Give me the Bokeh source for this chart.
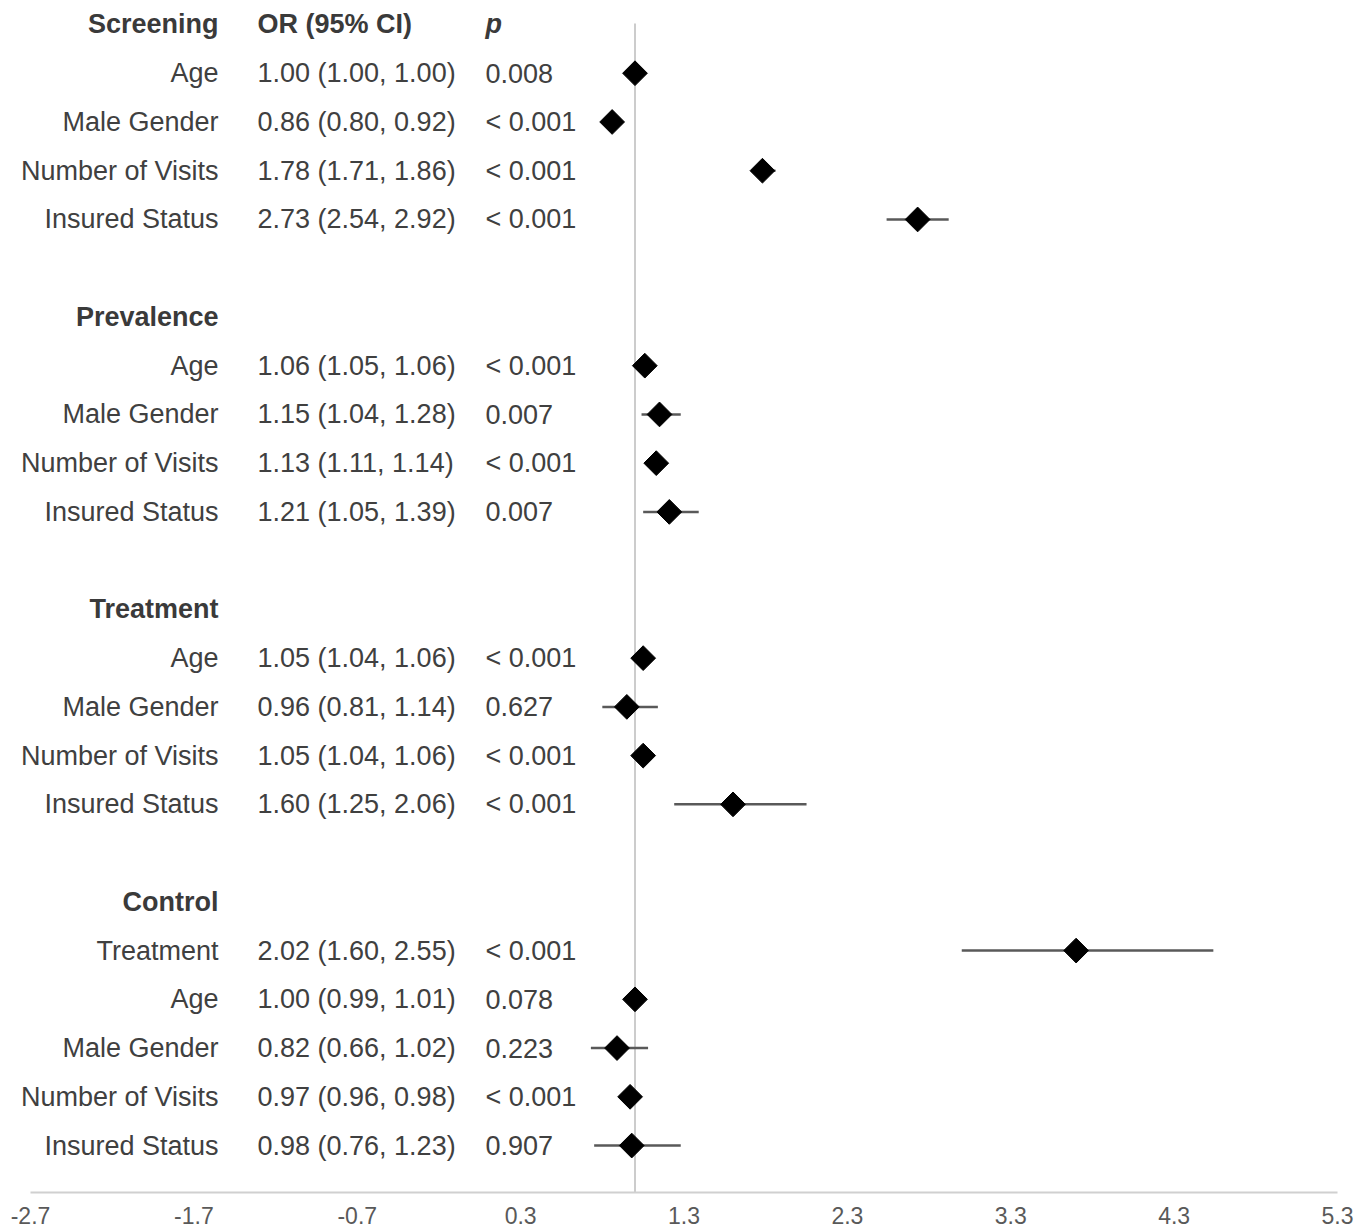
import numpy as np
from bokeh.plotting import figure
from bokeh.models import Range1d, FixedTicker
from bokeh.core.properties import value
from bokeh.embed import file_html
from bokeh.resources import INLINE

# ---------------- data ----------------
group_names = ["Screening", "Prevalence", "Treatment", "Control"]

group_vars = [
    ["Age", "Male Gender", "Number of Visits", "Insured Status"],
    ["Age", "Male Gender", "Number of Visits", "Insured Status"],
    ["Age", "Male Gender", "Number of Visits", "Insured Status"],
    ["Treatment", "Age", "Male Gender", "Number of Visits", "Insured Status"],
]

or_text = [
    ["1.00 (1.00, 1.00)", "0.86 (0.80, 0.92)", "1.78 (1.71, 1.86)", "2.73 (2.54, 2.92)"],
    ["1.06 (1.05, 1.06)", "1.15 (1.04, 1.28)", "1.13 (1.11, 1.14)", "1.21 (1.05, 1.39)"],
    ["1.05 (1.04, 1.06)", "0.96 (0.81, 1.14)", "1.05 (1.04, 1.06)", "1.60 (1.25, 2.06)"],
    ["2.02 (1.60, 2.55)", "1.00 (0.99, 1.01)", "0.82 (0.66, 1.02)", "0.97 (0.96, 0.98)", "0.98 (0.76, 1.23)"],
]

p_text = [
    ["0.008", "< 0.001", "< 0.001", "< 0.001"],
    ["< 0.001", "0.007", "< 0.001", "0.007"],
    ["< 0.001", "0.627", "< 0.001", "< 0.001"],
    ["< 0.001", "0.078", "0.223", "< 0.001", "0.907"],
]

# plotted estimates and CI ends, as read from the markers in the picture
est = [
    [1.00, 0.86, 1.78, 2.73],
    [1.06, 1.15, 1.13, 1.21],
    [1.05, 0.95, 1.05, 1.60],
    [3.70, 1.00, 0.89, 0.97, 0.98],
]
lo = [
    [1.00, 0.80, 1.71, 2.54],
    [1.05, 1.04, 1.11, 1.05],
    [1.04, 0.80, 1.04, 1.24],
    [3.00, 0.99, 0.73, 0.96, 0.75],
]
hi = [
    [1.00, 0.92, 1.86, 2.92],
    [1.06, 1.28, 1.14, 1.39],
    [1.06, 1.14, 1.06, 2.05],
    [4.54, 1.01, 1.08, 0.98, 1.28],
]

null_value = 1.0
tick_values = [-2.7, -1.7, -0.7, 0.3, 1.3, 2.3, 3.3, 4.3, 5.3]
tick_labels = ["-2.7", "-1.7", "-0.7", "0.3", "1.3", "2.3", "3.3", "4.3", "5.3"]
col_headers = ["OR (95% CI)", "p"]

# ---------------- row layout ----------------
hdr_y, hdr_txt = [], []
row_y, row_lab, row_or, row_p, row_est, row_lo, row_hi = [], [], [], [], [], [], []
r = 0
for g, name in enumerate(group_names):
    hdr_y.append(r)
    hdr_txt.append(name)
    for k in range(len(group_vars[g])):
        r += 1
        row_y.append(r)
        row_lab.append(group_vars[g][k])
        row_or.append(or_text[g][k])
        row_p.append(p_text[g][k])
        row_est.append(est[g][k])
        row_lo.append(lo[g][k])
        row_hi.append(hi[g][k])
    r += 2

y_top, y_bot = -0.328, 23.963
x_start, x_end = -2.8347, 5.4162
x_lab, x_or, x_p = -1.549, -1.3106, 0.085

FONT = value("Liberation Sans")
FS = value("27px")
TXT = "#404040"

p = figure(width=1356, height=1232,
           x_range=Range1d(x_start, x_end), y_range=Range1d(y_bot, y_top),
           output_backend="svg", toolbar_location=None, y_axis_location=None,
           min_border_left=8, min_border_right=0, min_border_top=8, min_border_bottom=40)
p.outline_line_color = None
p.grid.visible = False
p.background_fill_color = "white"

ax = p.xaxis[0]
ax.ticker = FixedTicker(ticks=tick_values)
ax.major_label_overrides = {v: s for v, s in zip(tick_values, tick_labels)}
ax.bounds = (tick_values[0], tick_values[-1])
ax.axis_line_color = "#d0d0d0"
ax.axis_line_width = 2
ax.major_tick_line_color = None
ax.minor_tick_line_color = None
ax.major_tick_out = 0
ax.major_label_standoff = 14
ax.major_label_text_font = "Liberation Sans"
ax.major_label_text_font_size = "23px"
ax.major_label_text_color = "#595959"

# reference line
p.segment(x0=[null_value], y0=[-0.02], x1=[null_value], y1=[y_bot],
          line_color="#cccccc", line_width=2)

# CI bars and diamonds
p.segment(x0=row_lo, y0=row_y, x1=row_hi, y1=row_y, line_color="#595959", line_width=2.5)
p.scatter(x=row_est, y=row_y, marker="square", angle=np.pi / 4, size=17.5,
          fill_color="black", line_color="black")

# group headers
p.text(x=[x_lab] * len(hdr_y), y=hdr_y, text=hdr_txt, text_align="right",
       text_baseline="middle", text_font=FONT, text_font_size=FS,
       text_font_style="bold", text_color="#3a3a3a")
p.text(x=[x_or], y=[0], text=[col_headers[0]], text_align="left",
       text_baseline="middle", text_font=FONT, text_font_size=FS,
       text_font_style="bold", text_color="#3a3a3a")
p.text(x=[x_p], y=[0], text=[col_headers[1]], text_align="left",
       text_baseline="middle", text_font=FONT, text_font_size=FS,
       text_font_style="bold italic", text_color="#3a3a3a")

# row texts
p.text(x=[x_lab] * len(row_y), y=row_y, text=row_lab, text_align="right",
       text_baseline="middle", text_font=FONT, text_font_size=FS, text_color=TXT)
p.text(x=[x_or] * len(row_y), y=row_y, text=row_or, text_align="left",
       text_baseline="middle", text_font=FONT, text_font_size=FS, text_color=TXT)
p.text(x=[x_p] * len(row_y), y=row_y, text=row_p, text_align="left",
       text_baseline="middle", text_font=FONT, text_font_size=FS, text_color=TXT)

open("out.html", "w").write(file_html(p, INLINE))
